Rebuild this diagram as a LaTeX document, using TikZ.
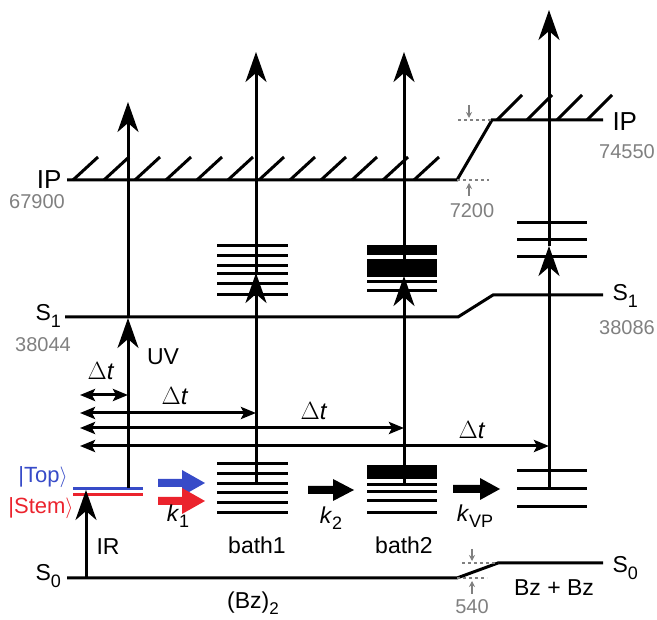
\documentclass[tikz,border=0pt]{standalone}
\usepackage{fontspec}
\setmainfont{Liberation Sans}
\usetikzlibrary{arrows.meta}
\definecolor{numgray}{RGB}{128,128,128}
\definecolor{topblue}{RGB}{55,75,200}
\definecolor{stemred}{RGB}{235,35,45}
\begin{document}
\begin{tikzpicture}[x=1pt,y=-1pt,line width=3pt,
  big/.style={-{Stealth[length=30pt,width=21pt,inset=9pt]}},
  dtboth/.style={{Stealth[length=15pt,width=12pt,inset=3pt]}-{Stealth[length=15pt,width=12pt,inset=3pt]}},
  gdash/.style={numgray,line width=1.3pt,dash pattern=on 3pt off 3pt},
  gtip/.style={numgray,line width=1.3pt,-{Stealth[length=6pt,width=6pt]}},
  lab/.style={font=\fontsize{23}{25}\selectfont,inner sep=0pt},
  num/.style={font=\fontsize{20}{22}\selectfont,text=numgray,inner sep=0pt},
  dtl/.style={font=\fontsize{24}{26}\selectfont,inner sep=0pt},
  ket/.style={font=\fontsize{22}{24}\selectfont,inner sep=0pt},
]
\useasboundingbox (0,0) rectangle (657,620);
% ---------- coordinates ----------
\coordinate (ipL) at (67,180);   \coordinate (ipM) at (457,180);
\coordinate (ipN) at (492,120);  \coordinate (ipR) at (603,120);
\coordinate (s1L) at (65,317);   \coordinate (s1M) at (458,317);
\coordinate (s1N) at (493,295);  \coordinate (s1R) at (603,295);
\coordinate (s0L) at (67,578);   \coordinate (s0M) at (457,578);
\coordinate (s0N) at (498,563);  \coordinate (s0R) at (603,563);
% levels
\draw (ipL) -- (ipM) -- (ipN) -- (ipR);
\draw (s1L) -- (s1M) -- (s1N) -- (s1R);
\draw (s0L) -- (s0M) -- (s0N) -- (s0R);
% hatches
\foreach \x in {73,104,...,414} \draw (\x,180) -- ++(25,-23);
\foreach \x in {497,527,557,587} \draw (\x,120) -- ++(25,-25);
% gray dashed markers
\coordinate (g1a) at (458,120); \coordinate (g1b) at (469,105); \coordinate (g1c) at (469,118);
\draw[gdash] (g1a) -- (ipN);
\draw[gtip] (g1b) -- (g1c);
\coordinate (g2a) at (489,180); \coordinate (g2b) at (469,196); \coordinate (g2c) at (469,183);
\draw[gdash] (ipM) -- (g2a);
\draw[gtip] (g2b) -- (g2c);
\coordinate (g3a) at (462,563); \coordinate (g3b) at (472,549); \coordinate (g3c) at (472,561);
\draw[gdash] (g3a) -- (s0N);
\draw[gtip] (g3b) -- (g3c);
\coordinate (g4a) at (487,578); \coordinate (g4b) at (472,594); \coordinate (g4c) at (472,581);
\draw[gdash] (s0M) -- (g4a);
\draw[gtip] (g4b) -- (g4c);
% Top / Stem
\coordinate (tpL) at (73,489); \coordinate (tpR) at (143,489);
\coordinate (stL) at (73,495); \coordinate (stR) at (143,495);
\draw[topblue] (tpL) -- (tpR);
\draw[stemred] (stL) -- (stR);
% bath1
\foreach \y in {246,256,266,274,284,295} \draw (217,\y) -- (288,\y);
\foreach \y in {464,474,484,493,503,513} \draw (217,\y) -- (288,\y);
% bath2
\fill (367,245) rectangle (437,255);
\fill (367,259) rectangle (437,277);
\foreach \y in {282,291} \draw (367,\y) -- (437,\y);
\fill (367,465) rectangle (437,479);
\foreach \y in {485,492,501,513} \draw (367,\y) -- (437,\y);
% right triplets
\foreach \y in {223,240,257} \draw (517,\y) -- (587,\y);
\foreach \y in {471,489,507} \draw (517,\y) -- (587,\y);
% vertical arrows
\coordinate (irB) at (86,578);  \coordinate (irT) at (86,490);
\draw[big] (irB) -- (irT);
\coordinate (uvB) at (128,488); \coordinate (uvS) at (128,318); \coordinate (uvT) at (128,102);
\draw[big] (uvB) -- (uvS);
\draw[big] (uvS) -- (uvT);
\coordinate (b1B) at (256,484); \coordinate (b1M) at (256,273); \coordinate (b1T) at (256,52);
\draw[big] (b1B) -- (b1M);
\draw[big] (b1M) -- (b1T);
\coordinate (b2B) at (404,483); \coordinate (b2M) at (404,276); \coordinate (b2T) at (404,52);
\draw[big] (b2B) -- (b2M);
\draw[big] (b2M) -- (b2T);
\coordinate (rB) at (549,489); \coordinate (rM) at (549,246); \coordinate (rT) at (549,10);
\draw[big] (rB) -- (rM);
\draw[big] (rM) -- (rT);
% delta t arrows
\coordinate (d0L) at (80,395); \coordinate (d0R) at (128,395);
\draw[dtboth] (d0L) -- (d0R);
\coordinate (d1L) at (80,413); \coordinate (d1R) at (256,413);
\draw[dtboth] (d1L) -- (d1R);
\coordinate (d2L) at (80,428); \coordinate (d2R) at (404,428);
\draw[dtboth] (d2L) -- (d2R);
\coordinate (d3L) at (80,446); \coordinate (d3R) at (549,446);
\draw[dtboth] (d3L) -- (d3R);
% thick rate arrows
\fill[topblue] (158,479) -- (182,479) -- (182,470) -- (205,483) -- (182,496) -- (182,487) -- (158,487) -- cycle;
\fill[stemred] (158,497) -- (182,497) -- (182,488) -- (205,501) -- (182,514) -- (182,505) -- (158,505) -- cycle;
\fill (308,486) -- (333,486) -- (333,479) -- (354,490) -- (333,501) -- (333,494) -- (308,494) -- cycle;
\fill (453,485) -- (480,485) -- (480,478) -- (500,489) -- (480,500) -- (480,493) -- (453,493) -- cycle;
% ---------- labels ----------
\node[lab,font=\fontsize{26}{28}\selectfont,anchor=east] (ipl) at (63,180) {IP};
\node[num] (n67900) at (37,202) {67900};
\node[lab,anchor=west] (s1l) at (34,316) {S{\fontsize{18}{18}\selectfont\raisebox{-7pt}{1}}};
\node[num] (n38044) at (43,345) {38044};
\node[lab,anchor=west] (s0l) at (34,576) {S{\fontsize{18}{18}\selectfont\raisebox{-7pt}{0}}};
\node[lab,font=\fontsize{26}{28}\selectfont,anchor=west] (ipr) at (611,122) {IP};
\node[num] (n74550) at (627,152) {74550};
\node[lab,anchor=west] (s1r) at (611,296) {S{\fontsize{18}{18}\selectfont\raisebox{-7pt}{1}}};
\node[num] (n38086) at (627,328) {38086};
\node[lab,anchor=west] (s0r) at (611,568) {S{\fontsize{18}{18}\selectfont\raisebox{-7pt}{0}}};
\node[num] (n7200) at (472,211) {7200};
\node[num] (n540) at (472,607) {540};
\node[ket,text=topblue] (top) at (43,477) {|Top$\rangle$};
\node[ket,text=stemred] (stem) at (41,508) {|Stem$\rangle$};
\node[lab] (ir) at (108,547) {IR};
\node[lab] (uv) at (163,357) {UV};
\node[lab] (k1) at (178,516) {\textit{k}{\fontsize{18}{18}\selectfont\raisebox{-6pt}{1}}};
\node[lab] (k2) at (331,518) {\textit{k}{\fontsize{18}{18}\selectfont\raisebox{-6pt}{2}}};
\node[lab] (kvp) at (475,516) {\textit{k}{\fontsize{18}{18}\selectfont\raisebox{-6pt}{VP}}};
\node[lab] (bath1) at (257,545) {bath1};
\node[lab] (bath2) at (404,545) {bath2};
\node[lab] (bzbz) at (554,588) {Bz + Bz};
\node[lab] (bz2) at (253,603) {(Bz){\fontsize{17}{17}\selectfont\raisebox{-6pt}{2}}};
\node[dtl] (dt0) at (101,371) {$\Delta$\textit{t}};
\node[dtl] (dt1) at (175,396) {$\Delta$\textit{t}};
\node[dtl] (dt2) at (314,411) {$\Delta$\textit{t}};
\node[dtl] (dt3) at (472,430) {$\Delta$\textit{t}};
\end{tikzpicture}
\end{document}
